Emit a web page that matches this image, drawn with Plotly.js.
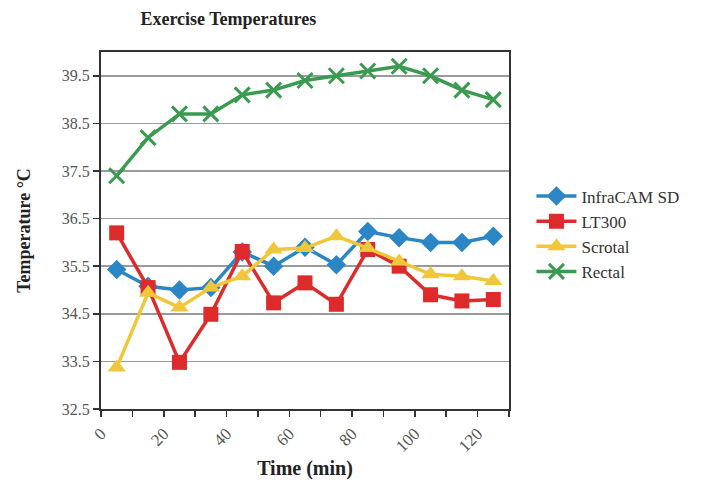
<!DOCTYPE html>
<html>
<head>
<meta charset="utf-8">
<script src="https://cdn.plot.ly/plotly-3.0.1.min.js"></script>
<style>html,body{margin:0;padding:0;background:#fff}#chart{width:709px;height:481px}</style>
</head>
<body>
<div id="chart"></div>
<script>
const timeMin = [5, 15, 25, 35, 45, 55, 65, 75, 85, 95, 105, 115, 125];
const infraCAM = [35.43, 35.08, 35.0, 35.05, 35.8, 35.5, 35.9, 35.53, 36.23, 36.1, 36.0, 36.0, 36.13];
const lt300 = [36.2, 35.05, 33.48, 34.49, 35.81, 34.73, 35.15, 34.7, 35.85, 35.5, 34.9, 34.77, 34.8];
const scrotal = [33.37, 34.94, 34.63, 35.05, 35.29, 35.85, 35.88, 36.13, 35.88, 35.6, 35.33, 35.29, 35.19];
const rectal = [37.4, 38.2, 38.7, 38.7, 39.1, 39.2, 39.4, 39.5, 39.6, 39.7, 39.5, 39.2, 39.0];
const xTickVals = [0, 10, 20, 30, 40, 50, 60, 70, 80, 90, 100, 110, 120, 130];
const xTickText = ['0', '', '20', '', '40', '', '60', '', '80', '', '100', '', '120', ''];
const yTickVals = [32.5, 33.5, 34.5, 35.5, 36.5, 37.5, 38.5, 39.5];

const serif = 'Liberation Serif, Times New Roman, serif';
function tr(name, y, color, symbol, size) {
  return {
    x: timeMin, y: y, name: name, type: 'scatter', mode: 'lines+markers',
    line: {color: color, width: 3.5},
    marker: {color: color, symbol: symbol, size: size, line: {color: color, width: symbol === 'x-thin' ? 3 : 0}}
  };
}
const data = [
  tr('InfraCAM SD', infraCAM, '#2b86c5', 'diamond', 15),
  tr('LT300', lt300, '#dd2a2a', 'square', 15),
  tr('Scrotal', scrotal, '#f0c73a', 'triangle-up', 16),
  tr('Rectal', rectal, '#3a9a4f', 'x-thin', 15)
];
const layout = {
  width: 709, height: 481,
  margin: {l: 101, r: 200, t: 52, b: 72},
  paper_bgcolor: '#fff', plot_bgcolor: '#fff',
  font: {family: serif, color: '#222'},
  title: {text: '<b>Exercise Temperatures</b>', font: {family: serif, size: 18, color: '#222'}, x: 0.322, xanchor: 'center', y: 0.962, yanchor: 'middle'},
  xaxis: {
    range: [0, 130], tickmode: 'array', tickvals: xTickVals, ticktext: xTickText,
    tickangle: -45, ticks: 'outside', ticklen: 6, tickwidth: 1.5, tickcolor: '#333',
    showline: true, linecolor: '#333', linewidth: 2, mirror: true,
    showgrid: false, zeroline: false,
    tickfont: {family: serif, size: 17, color: '#555'},
    title: {text: '<b>Time (min)</b>', font: {family: serif, size: 20, color: '#222'}, standoff: 6}
  },
  yaxis: {
    range: [32.5, 40.0], tickmode: 'array', tickvals: yTickVals,
    ticktext: yTickVals.map(v => v.toFixed(1)),
    ticks: 'outside', ticklen: 6, tickwidth: 1.5, tickcolor: '#333',
    showline: true, linecolor: '#333', linewidth: 2, mirror: true,
    showgrid: true, gridcolor: '#9a9a9a', gridwidth: 1.5, zeroline: false,
    tickfont: {family: serif, size: 16, color: '#555'},
    title: {text: '<b>Temperature °C</b>', font: {family: serif, size: 18, color: '#222'}, standoff: 26}
  },
  legend: {
    x: 1.055, xanchor: 'left', y: 0.49, yanchor: 'middle',
    font: {family: serif, size: 17, color: '#333'},
    tracegroupgap: 0, itemwidth: 40, bgcolor: 'rgba(0,0,0,0)'
  },
  showlegend: true
};
Plotly.newPlot('chart', data, layout, {displayModeBar: false, staticPlot: true});
</script>
</body>
</html>
